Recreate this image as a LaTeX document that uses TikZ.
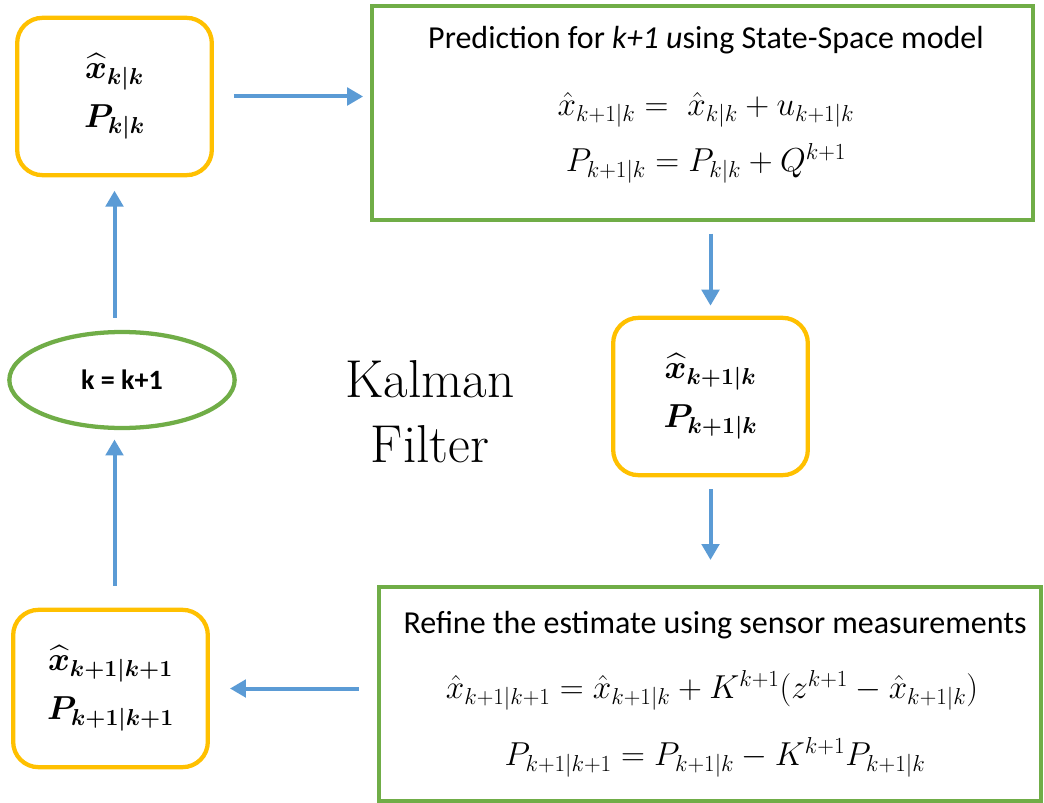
\documentclass[tikz,border=0pt]{standalone}
\usepackage{amsmath,bm}
\usepackage{fontspec}
\newfontfamily\calib{Carlito}
\usetikzlibrary{arrows.meta,shapes.geometric}
\definecolor{korange}{HTML}{FFC000}
\definecolor{kgreen}{HTML}{70AD47}
\definecolor{kblue}{HTML}{5B9BD5}
\begin{document}
\begin{tikzpicture}[x=0.75pt,y=-0.75pt,
  statebox/.style={draw=korange, line width=3.2pt, rounded corners=19pt,
    minimum width=146pt, minimum height=118pt, align=center,
    font=\fontsize{26}{37}\selectfont},
  procbox/.style={draw=kgreen, line width=3pt, minimum width=496pt, minimum height=160pt},
  titletext/.style={inner sep=0pt, font=\calib\fontsize{24}{28}\selectfont},
  eqtext/.style={inner sep=0pt, font=\fontsize{24}{28}\selectfont},
  flow/.style={draw=kblue, line width=3pt, -{Triangle[length=12pt,width=13pt]}},
]
\path[use as bounding box] (0,0) rectangle (1044,802);

% boxes
\node[statebox] (A) at (114.5,96.5) {$\bm{\widehat{x}}_{\bm{k|k}}$\\$\bm{P}_{\bm{k|k}}$};
\node[procbox] (B) at (702.5,113) {};
\node[statebox] (C) at (710.5,396.5) {$\bm{\widehat{x}}_{\bm{k+1|k}}$\\$\bm{P}_{\bm{k+1|k}}$};
\node[procbox] (D) at (710,694) {};
\node[statebox] (E) at (110.5,688.5) {$\bm{\widehat{x}}_{\bm{k+1|k+1}}$\\$\bm{P}_{\bm{k+1|k+1}}$};
\node[draw=kgreen, line width=3.2pt, ellipse, minimum width=169pt, minimum height=72pt,
  font=\calib\bfseries\fontsize{21}{24}\selectfont] (F) at (122,380) {k = k+1};

% texts in process boxes
\node[titletext] (bt) at (706,40) {Prediction for \textit{k+1 u}sing State-Space\ model};
\node[eqtext] (be1) at (706,110) {$\hat{x}_{k+1|k} = \ \hat{x}_{k|k} + u_{k+1|k}$};
\node[eqtext] (be2) at (706,163) {$P_{k+1|k} = P_{k|k} + Q^{k+1}$};

\node[titletext] (dt) at (715,625) {Refine the estimate using sensor\ measurements};
\node[eqtext] (de1) at (712,690) {$\hat{x}_{k+1|k+1} = \hat{x}_{k+1|k} + K^{k+1}(z^{k+1} - \hat{x}_{k+1|k})$};
\node[eqtext] (de2) at (715,757) {$P_{k+1|k+1} = P_{k+1|k} - K^{k+1}P_{k+1|k}$};

% title
\node[align=center, inner sep=0pt, font=\fontsize{40}{49}\selectfont] (kf) at (430,412) {Kalman\\Filter};

% connectors
\draw[flow, shorten <=15pt, shorten >=5pt] (A.east) -- (A.east -| B.west);
\draw[flow, shorten <=9pt, shorten >=7.5pt] (C.north |- B.south) -- (C.north);
\draw[flow, shorten <=9pt, shorten >=19pt] (C.south) -- (C.south |- D.north);
\draw[flow, shorten <=14pt, shorten >=15pt] (D.west |- E.east) -- (E.east);
\draw[flow, shorten <=16.5pt, shorten >=7pt] (E.north -| A.south) -- (F.south -| A.south);
\draw[flow, shorten <=9pt, shorten >=10pt] (F.north -| A.south) -- (A.south);
\end{tikzpicture}
\end{document}
